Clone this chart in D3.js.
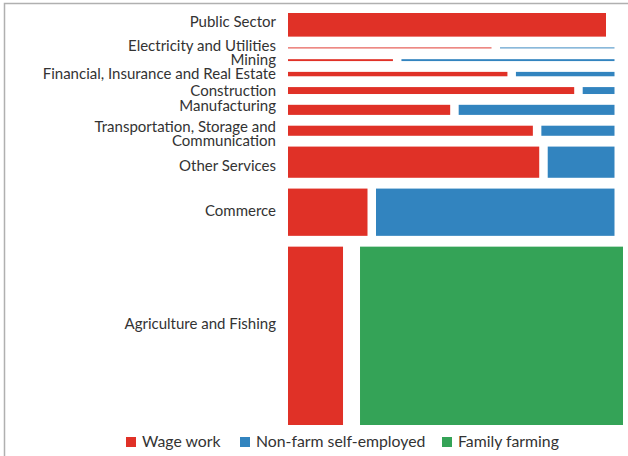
<!DOCTYPE html>
<html>
<head>
<meta charset="utf-8">
<script src="https://cdn.jsdelivr.net/npm/d3@7"></script>
<style>
  html, body { margin: 0; padding: 0; background: #fff; }
  svg { display: block; }
  text { font-family: Lato, "Open Sans", sans-serif; fill: #333; }
</style>
</head>
<body>
<svg id="chart" width="628" height="456"></svg>
<script>
// ---- data ----
const sectors = ["Public Sector", "Electricity and Utilities", "Mining",
  "Financial, Insurance and Real Estate", "Construction", "Manufacturing",
  "Transportation, Storage and Communication", "Other Services", "Commerce",
  "Agriculture and Fishing"];
const employmentShare = [7.5, 0.3, 0.6, 1.4, 2.2, 3.2, 3.2, 9.9, 15.0, 56.6];
const wageWork        = [100, 64, 33, 69, 90, 51, 77, 79, 25, 17.3];
const nonFarmSelf     = [0, 36, 67, 31, 10, 49, 23, 21, 75, 0];
const familyFarming   = [0, 0, 0, 0, 0, 0, 0, 0, 0, 82.7];
const seriesNames = ["Wage work", "Non-farm self-employed", "Family farming"];
const colors = ["#e03127", "#3284bf", "#34a357"];

// ---- layout ----
const svg = d3.select("#chart");
const plotLeft = 288, segGap = 8.5, plotW = 318;
const plotTop = 13, plotBottom = 425, rowGap = 10.8;

// frame
svg.append("path").attr("d", "M4.5,460 V3.5 H640")
  .attr("fill", "none").attr("stroke", "#b0b0b0").attr("stroke-width", 1.5);

const x = d3.scaleLinear().domain([0, 100]).range([0, plotW]);
const totalH = (plotBottom - plotTop) - rowGap * (sectors.length - 1);
const sumShare = d3.sum(employmentShare);
const h = d3.scaleLinear().domain([0, sumShare]).range([0, totalH]);

const rows = sectors.map((s, i) => ({
  sector: s, share: employmentShare[i],
  "Wage work": wageWork[i], "Non-farm self-employed": nonFarmSelf[i], "Family farming": familyFarming[i]
}));
let acc = plotTop;
rows.forEach(r => { r.y = acc; r.h = h(r.share); acc += r.h + rowGap; });

const stacked = d3.stack().keys(seriesNames)(rows);

stacked.forEach((layer, k) => {
  svg.append("g").attr("fill", colors[k])
    .selectAll("rect").data(layer).join("rect")
    .attr("x", d => plotLeft + x(d[0]) + k * segGap)
    .attr("width", d => x(d[1]) - x(d[0]))
    .attr("y", d => d.data.y)
    .attr("height", d => d.data.h)
    .attr("display", d => (d[1] - d[0]) > 0 ? null : "none");
});

// labels
const labelNudge = {"Public Sector": -3, "Electricity and Utilities": -2.5, "Manufacturing": -4,
  "Transportation, Storage and Communication": 3, "Other Services": 3.5, "Commerce": -1,
  "Agriculture and Fishing": -12};
const labelLines = {"Transportation, Storage and Communication": ["Transportation, Storage and", "Communication"]};
const lg = svg.append("g").attr("font-size", 15).attr("text-anchor", "end");
rows.forEach(r => {
  const lines = labelLines[r.sector] || [r.sector];
  const cy = r.y + r.h / 2 + (labelNudge[r.sector] || 0);
  const t = lg.append("text").attr("x", 276).attr("y", cy - (lines.length - 1) * 7);
  lines.forEach((ln, j) => t.append("tspan").attr("x", 276).attr("dy", j === 0 ? "0.35em" : 14).text(ln));
});

// legend
const legendX = [126, 240, 442];
const leg = svg.append("g").attr("font-size", 15.8);
seriesNames.forEach((n, i) => {
  leg.append("rect").attr("x", legendX[i]).attr("y", 437).attr("width", 10).attr("height", 10).attr("fill", colors[i]);
  leg.append("text").attr("x", legendX[i] + 16).attr("y", 447).text(n);
});
</script>
</body>
</html>
